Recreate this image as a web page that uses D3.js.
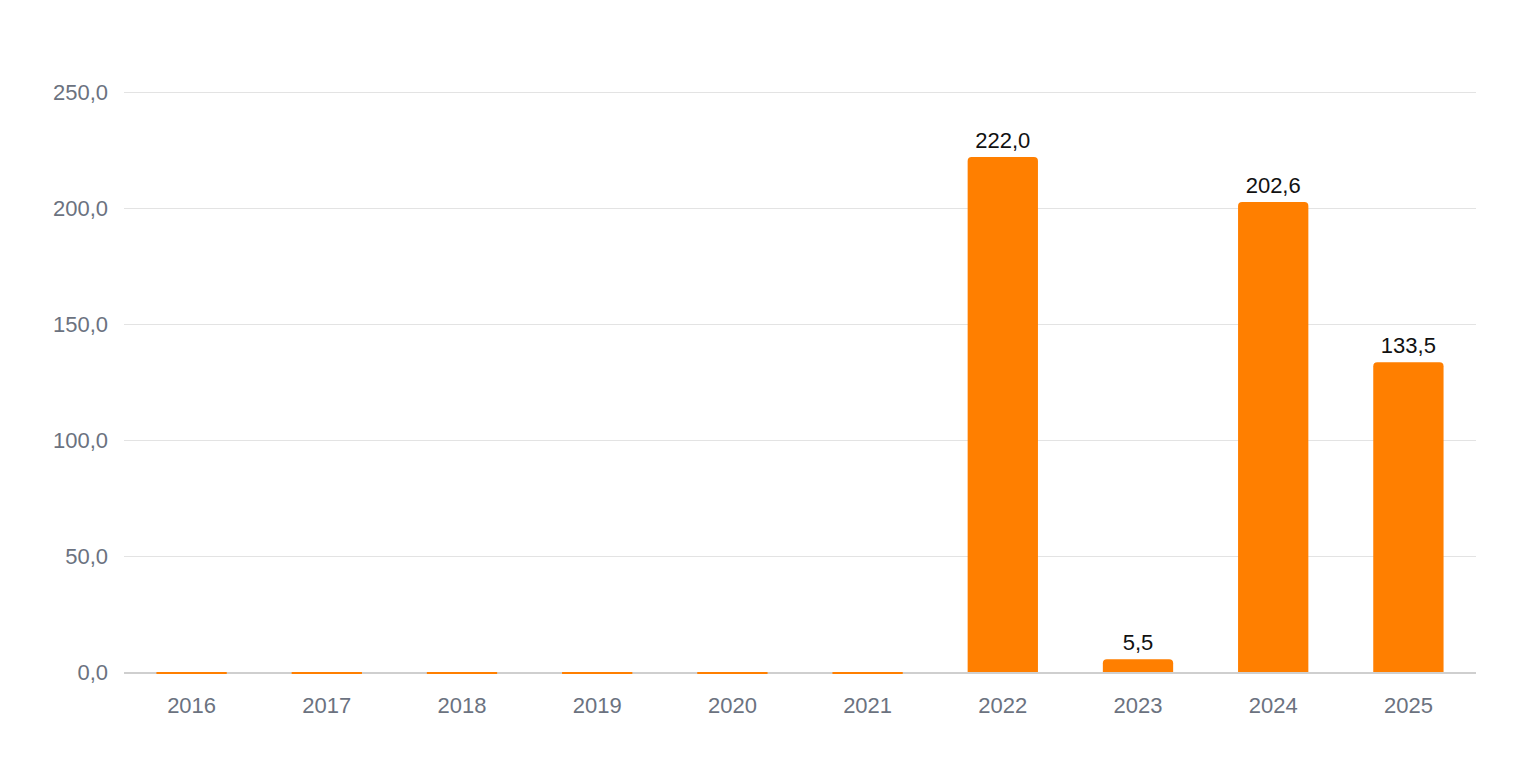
<!DOCTYPE html>
<html><head><meta charset="utf-8">
<script src="https://cdn.jsdelivr.net/npm/d3@7"></script>
<style>
html,body{margin:0;padding:0;background:#fff;}
svg{display:block;font-family:"Liberation Sans",Arial,Helvetica,sans-serif;}
</style></head>
<body>
<svg id="chart" width="1520" height="760"></svg>
<script>
const categories = ["2016","2017","2018","2019","2020","2021","2022","2023","2024","2025"];
const values = [0,0,0,0,0,0,222.0,5.5,202.6,133.5];
const yTicks = [0,50,100,150,200,250];

const W=1520,H=760;
const margin={left:124,right:44,top:92,bottom:88};
const svg=d3.select("#chart");
const x=d3.scaleBand().domain(categories).range([margin.left,W-margin.right]).paddingInner(0.48).paddingOuter(0.24);
const y=d3.scaleLinear().domain([0,250]).range([H-margin.bottom,margin.top]);
const fmt=v=>d3.format(".1f")(v).replace(".",",");
const FONT="'Liberation Sans',Arial,sans-serif";

// gridlines
svg.append("g").selectAll("line").data(yTicks.filter(t=>t>0)).join("line")
  .attr("x1",margin.left).attr("x2",W-margin.right)
  .attr("y1",d=>y(d)+0.5).attr("y2",d=>y(d)+0.5)
  .attr("stroke","#e3e3e3").attr("stroke-width",1);

// y axis labels
const yAxis=d3.axisLeft(y).tickValues(yTicks).tickFormat(fmt).tickSize(0).tickPadding(16);
const ga=svg.append("g").attr("transform",`translate(${margin.left},0)`).call(yAxis);
ga.select(".domain").remove();
ga.selectAll("text").attr("fill","#6b7280").attr("font-size",22).attr("font-family",FONT);

// x axis labels
const xAxis=d3.axisBottom(x).tickSize(0).tickPadding(25);
const gx=svg.append("g").attr("transform",`translate(0,${y(0)})`).call(xAxis);
gx.select(".domain").remove();
gx.selectAll("text").attr("fill","#6b7280").attr("font-size",22).attr("font-family",FONT);

// baseline
svg.append("line").attr("x1",margin.left).attr("x2",W-margin.right)
  .attr("y1",y(0)+1).attr("y2",y(0)+1).attr("stroke","#cfcfcf").attr("stroke-width",2);

// bars
const r=4;
function barPath(d,i){
  const x0=x(categories[i]),w=x.bandwidth();
  const yb=y(0),yt=y(d);
  let h=yb-yt;
  if(h<2){return `M${x0},${yb}h${w}v2h${-w}Z`;}
  const rr=Math.min(r,h/2);
  return `M${x0},${yb}V${yt+rr}Q${x0},${yt} ${x0+rr},${yt}H${x0+w-rr}Q${x0+w},${yt} ${x0+w},${yt+rr}V${yb}Z`;
}
svg.append("g").selectAll("path").data(values).join("path")
  .attr("d",(d,i)=>barPath(d,i)).attr("fill","#ff7f00");

// value labels
svg.append("g").selectAll("text").data(values.map((v,i)=>({v,c:categories[i]})).filter(d=>d.v>0)).join("text")
  .attr("x",d=>x(d.c)+x.bandwidth()/2).attr("y",d=>y(d.v)-9)
  .attr("text-anchor","middle").attr("font-size",22).attr("fill","#111")
  .attr("font-family",FONT)
  .text(d=>fmt(d.v));
</script>
</body></html>
